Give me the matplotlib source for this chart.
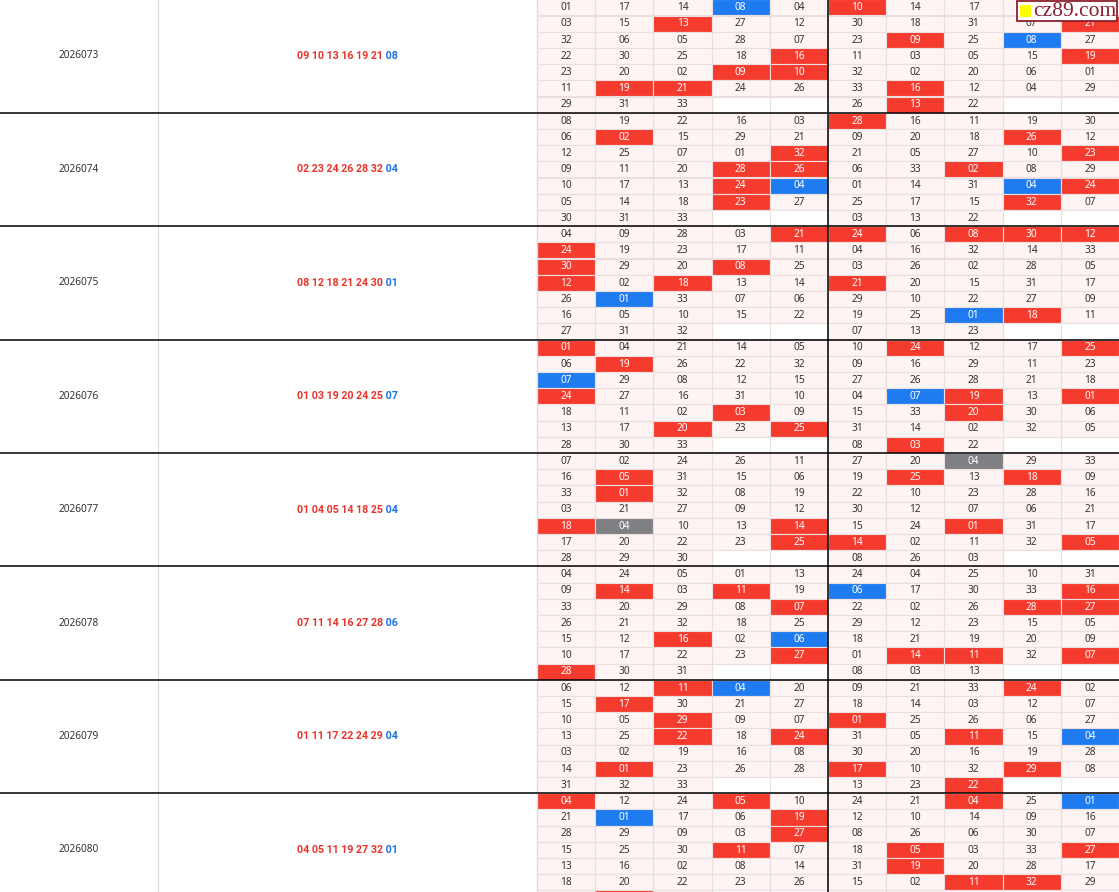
import matplotlib
matplotlib.use('Agg')
import matplotlib.pyplot as plt
from matplotlib.patches import Rectangle

# period numbers and winning numbers (6 red + 1 blue)
periods = ['2026073', '2026074', '2026075', '2026076', '2026077', '2026078', '2026079', '2026080']
reds = [
    ['09', '10', '13', '16', '19', '21'],
    ['02', '23', '24', '26', '28', '32'],
    ['08', '12', '18', '21', '24', '30'],
    ['01', '03', '19', '20', '24', '25'],
    ['01', '04', '05', '14', '18', '25'],
    ['07', '11', '14', '16', '27', '28'],
    ['01', '11', '17', '22', '24', '29'],
    ['04', '05', '11', '19', '27', '32'],
]
blues = ['08', '04', '01', '07', '04', '06', '04', '01']

# 7 rows x 10 columns per period, '--' = empty cell
grid_073 = ['01 17 14 08 04 10 14 17 24 28',
            '03 15 13 27 12 30 18 31 07 21',
            '32 06 05 28 07 23 09 25 08 27',
            '22 30 25 18 16 11 03 05 15 19',
            '23 20 02 09 10 32 02 20 06 01',
            '11 19 21 24 26 33 16 12 04 29',
            '29 31 33 -- -- 26 13 22 -- --']
grid_074 = ['08 19 22 16 03 28 16 11 19 30',
            '06 02 15 29 21 09 20 18 26 12',
            '12 25 07 01 32 21 05 27 10 23',
            '09 11 20 28 26 06 33 02 08 29',
            '10 17 13 24 04 01 14 31 04 24',
            '05 14 18 23 27 25 17 15 32 07',
            '30 31 33 -- -- 03 13 22 -- --']
grid_075 = ['04 09 28 03 21 24 06 08 30 12',
            '24 19 23 17 11 04 16 32 14 33',
            '30 29 20 08 25 03 26 02 28 05',
            '12 02 18 13 14 21 20 15 31 17',
            '26 01 33 07 06 29 10 22 27 09',
            '16 05 10 15 22 19 25 01 18 11',
            '27 31 32 -- -- 07 13 23 -- --']
grid_076 = ['01 04 21 14 05 10 24 12 17 25',
            '06 19 26 22 32 09 16 29 11 23',
            '07 29 08 12 15 27 26 28 21 18',
            '24 27 16 31 10 04 07 19 13 01',
            '18 11 02 03 09 15 33 20 30 06',
            '13 17 20 23 25 31 14 02 32 05',
            '28 30 33 -- -- 08 03 22 -- --']
grid_077 = ['07 02 24 26 11 27 20 04 29 33',
            '16 05 31 15 06 19 25 13 18 09',
            '33 01 32 08 19 22 10 23 28 16',
            '03 21 27 09 12 30 12 07 06 21',
            '18 04 10 13 14 15 24 01 31 17',
            '17 20 22 23 25 14 02 11 32 05',
            '28 29 30 -- -- 08 26 03 -- --']
grid_078 = ['04 24 05 01 13 24 04 25 10 31',
            '09 14 03 11 19 06 17 30 33 16',
            '33 20 29 08 07 22 02 26 28 27',
            '26 21 32 18 25 29 12 23 15 05',
            '15 12 16 02 06 18 21 19 20 09',
            '10 17 22 23 27 01 14 11 32 07',
            '28 30 31 -- -- 08 03 13 -- --']
grid_079 = ['06 12 11 04 20 09 21 33 24 02',
            '15 17 30 21 27 18 14 03 12 07',
            '10 05 29 09 07 01 25 26 06 27',
            '13 25 22 18 24 31 05 11 15 04',
            '03 02 19 16 08 30 20 16 19 28',
            '14 01 23 26 28 17 10 32 29 08',
            '31 32 33 -- -- 13 23 22 -- --']
grid_080 = ['04 12 24 05 10 24 21 04 25 01',
            '21 01 17 06 19 12 10 14 09 16',
            '28 29 09 03 27 08 26 06 30 07',
            '15 25 30 11 07 18 05 03 33 27',
            '13 16 02 08 14 31 19 20 28 17',
            '18 20 22 23 26 15 02 11 32 29',
            '31 32 33 -- -- 13 22 23 -- --']
grids = [grid_073, grid_074, grid_075, grid_076, grid_077, grid_078, grid_079, grid_080]

W, H = 1119, 892
block_h = 113.4
top0 = -0.7
row_h = block_h / 7
gx0 = 537
col_w = 58.2

RED = '#f53a2e'
BLUE = '#1f7cf0'
GRAY = '#7f8084'
CELL = '#fdf4f3'
LINE = '#ecdede'
TXT = '#333333'

# logo box (covers two cells of the first row)
logo = (1017, 0.5, 100, 20.5)

fig = plt.figure(figsize=(W / 100, H / 100), dpi=100)
ax = fig.add_axes([0, 0, 1, 1])
ax.set_xlim(0, W)
ax.set_ylim(H, 0)
ax.axis('off')

font = 'Noto Sans'
bold_font = ['Roboto', 'Open Sans', 'DejaVu Sans']

for b, per in enumerate(periods):
    y0 = top0 + b * block_h
    ax.text(78.5, y0 + block_h / 2, per, ha='center', va='center',
            fontsize=7.3, color=TXT, family=font)

    # winning numbers: red part then blue part
    full = ax.text(347.5, y0 + block_h / 2, ' '.join(reds[b]) + ' ' + blues[b],
                   ha='center', va='center', fontsize=7.7, weight='bold',
                   family=bold_font, alpha=0)
    rt = ax.annotate(' '.join(reds[b]), xy=(0, 0.5), xycoords=full,
                     ha='left', va='center', fontsize=7.7, weight='bold',
                     family=bold_font, color='#e8342b')
    ax.annotate(' ' + blues[b], xy=(1, 0.5), xycoords=rt,
                ha='left', va='center', fontsize=7.7, weight='bold',
                family=bold_font, color='#1a73e8')

    for r, line in enumerate(grids[b]):
        vals = line.split()
        yy = y0 + r * row_h
        for c, v in enumerate(vals):
            xx = gx0 + c * col_w
            if v == '--':
                fc = 'white'
            elif v in reds[b] and v == blues[b]:
                fc = GRAY
            elif v == blues[b]:
                fc = BLUE
            elif v in reds[b]:
                fc = RED
            else:
                fc = CELL
            ax.add_patch(Rectangle((xx, yy), col_w, row_h, facecolor=fc,
                                   edgecolor=LINE, lw=0.8))
            cx, cy = xx + col_w / 2, yy + row_h / 2 + 0.3
            hidden = (cx > logo[0] and cy < logo[1] + logo[3]) or cy + 4 > H
            if v != '--' and not hidden:
                tc = 'white' if fc != CELL else TXT
                ax.text(cx, cy, v, ha='center', va='center',
                        fontsize=7.3, color=tc, family=font)

# column separators in the left part
ax.plot([158, 158], [0, H], color='#dcdcdc', lw=0.9)
ax.plot([gx0, gx0], [0, H], color='#dcdcdc', lw=0.9)
# black separators
for b in range(1, len(periods)):
    y = top0 + b * block_h
    ax.plot([0, W], [y, y], color='black', lw=1.1)
ax.plot([gx0 + 5 * col_w, gx0 + 5 * col_w], [0, H], color='black', lw=1.1)

# site logo in the top right corner
ax.add_patch(Rectangle(logo[:2], logo[2], logo[3], facecolor='white',
                       edgecolor='#8b1f2f', lw=1.3, zorder=5))
ax.add_patch(Rectangle((1020, 5), 11, 11.5, facecolor='#ffff00',
                       edgecolor='none', zorder=6))
ax.text(1033.5, 11.0, 'cz89.com', ha='left', va='center', fontsize=15.5,
        family='Liberation Serif', color='#8b1f2f', zorder=6)

fig.savefig('out.png', dpi=100)
